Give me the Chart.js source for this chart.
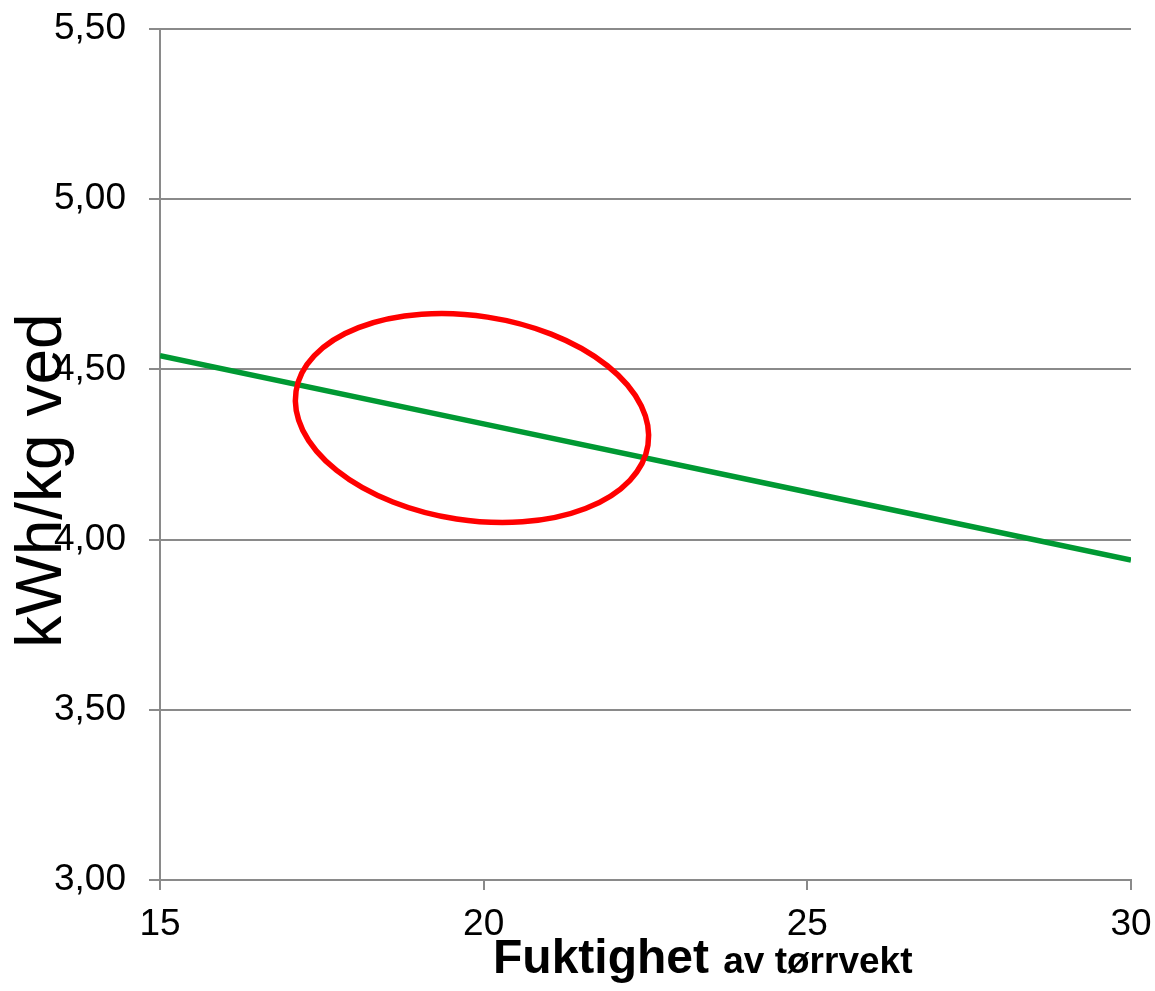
<!DOCTYPE html>
<html>
<head>
<meta charset="utf-8">
<script src="https://cdn.jsdelivr.net/npm/chart.js@4"></script>
<style>
  html, body { margin: 0; padding: 0; background: #fff; }
  #wrap { width: 1155px; height: 991px; }
</style>
</head>
<body>
<div id="wrap"><canvas id="energy-by-moisture"></canvas></div>
<script>
// moisture (% of dry weight) and energy content
var moisture = [15, 20, 25, 30];
var energy = [4.54, 4.34, 4.14, 3.94];
var xTicks = [15, 20, 25, 30];
var yTicks = [3.0, 3.5, 4.0, 4.5, 5.0, 5.5];

// red ring marking the 17-22 % region
var ringCenter = [19.82, 4.357];
var ringRadius = [2.75, 0.30];

var gray = '#8a8a8a';

// draws the axis titles (they overlap the tick labels in the original) and the ring
var extras = {
  id: 'extras',
  afterDatasetsDraw: function (chart) {
    var ctx = chart.ctx;
    var xs = chart.scales.x, ys = chart.scales.y;
    var area = chart.chartArea;

    ctx.save();
    var cx = xs.getPixelForValue(ringCenter[0]);
    var cy = ys.getPixelForValue(ringCenter[1]);
    var rx = Math.abs(xs.getPixelForValue(ringCenter[0] + ringRadius[0]) - cx);
    var ry = Math.abs(ys.getPixelForValue(ringCenter[1] + ringRadius[1]) - cy);
    ctx.beginPath();
    ctx.ellipse(cx, cy, rx, ry, 8.7 * Math.PI / 180, 0, Math.PI * 2);
    ctx.strokeStyle = '#ff0000';
    ctx.lineWidth = 5.5;
    ctx.stroke();
    ctx.restore();

    // y title
    ctx.save();
    ctx.fillStyle = '#000';
    ctx.font = '64px "Liberation Sans", Arial, sans-serif';
    ctx.textAlign = 'center';
    ctx.textBaseline = 'alphabetic';
    ctx.translate(61, (area.top + area.bottom) / 2 + 26);
    ctx.rotate(-Math.PI / 2);
    ctx.fillText('kWh/kg ved', 0, 0);
    ctx.restore();

    // x title
    ctx.save();
    ctx.fillStyle = '#000';
    ctx.textBaseline = 'alphabetic';
    ctx.textAlign = 'left';
    var x0 = 493, base = 973;
    ctx.font = 'bold 48px "Liberation Sans", Arial, sans-serif';
    ctx.fillText('Fuktighet', x0, base);
    var w = ctx.measureText('Fuktighet').width;
    ctx.font = 'bold 37px "Liberation Sans", Arial, sans-serif';
    ctx.fillText(' av tørrvekt', x0 + w + 4, base);
    ctx.restore();
  }
};

window.addEventListener('load', function () {
  var elem = document.getElementById('energy-by-moisture');
  var ctx = elem.getContext('2d');
  var points = moisture.map(function (m, i) { return { x: m, y: energy[i] }; });

  var chart = new Chart(ctx, {
    type: 'line',
    data: {
      datasets: [{
        data: points,
        borderColor: '#009933',
        borderWidth: 5.5,
        pointRadius: 0,
        fill: false,
        tension: 0
      }]
    },
    options: {
      responsive: true,
      maintainAspectRatio: false,
      animation: false,
      layout: { padding: { top: 29, right: 24, left: 0, bottom: 0 } },
      plugins: {
        legend: { display: false },
        tooltip: { enabled: false }
      },
      scales: {
        x: {
          type: 'linear',
          min: 15,
          max: 30,
          afterBuildTicks: function (axis) {
            axis.ticks = xTicks.map(function (v) { return { value: v }; });
          },
          afterFit: function (axis) {
            axis.height = 111;
            axis.paddingLeft = 0;
            axis.paddingRight = 0;
          },
          grid: { drawOnChartArea: false, drawTicks: true, tickLength: 10, color: gray, lineWidth: 2 },
          border: { display: true, color: gray, width: 2 },
          ticks: {
            color: '#000',
            padding: 13,
            maxRotation: 0,
            font: { family: '"Liberation Sans", Arial, sans-serif', size: 37 }
          }
        },
        y: {
          min: 3,
          max: 5.5,
          afterBuildTicks: function (axis) {
            axis.ticks = yTicks.map(function (v) { return { value: v }; });
          },
          afterFit: function (axis) {
            axis.width = 160;
            axis.paddingTop = 0;
            axis.paddingBottom = 0;
          },
          grid: { drawTicks: true, tickLength: 11, color: gray, lineWidth: 2 },
          border: { display: true, color: gray, width: 2 },
          ticks: {
            color: '#000',
            padding: 23,
            font: { family: '"Liberation Sans", Arial, sans-serif', size: 37 },
            callback: function (v) { return v.toFixed(2).replace('.', ','); }
          }
        }
      }
    },
    plugins: [extras]
  });
});
</script>
</body>
</html>
